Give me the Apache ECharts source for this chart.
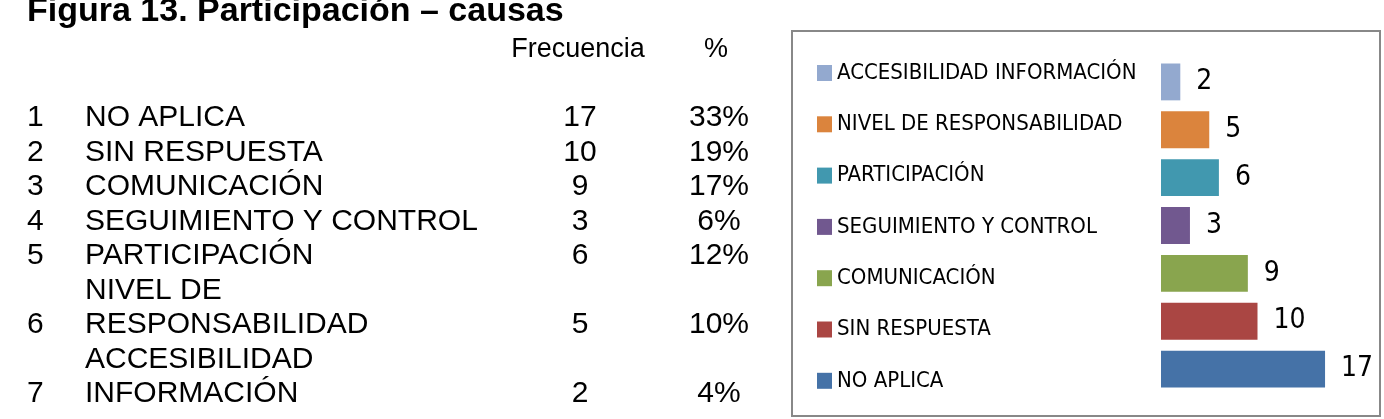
<!DOCTYPE html>
<html>
<head>
<meta charset="utf-8">
<script src="https://cdn.jsdelivr.net/npm/echarts@6/dist/echarts.min.js"></script>
<style>
  html, body { margin: 0; padding: 0; background: #fff; }
  #chart { width: 1384px; height: 419px; }
</style>
</head>
<body>
<div id="chart"></div>
<script>
// datos de la tabla (orden de la tabla, de arriba a abajo)
const categories = ['NO APLICA', 'SIN RESPUESTA', 'COMUNICACIÓN', 'SEGUIMIENTO Y CONTROL', 'PARTICIPACIÓN', 'NIVEL DE RESPONSABILIDAD', 'ACCESIBILIDAD INFORMACIÓN']
const frecuencia = [17, 10, 9, 3, 6, 5, 2]
const porcentaje = ['33%', '19%', '17%', '6%', '12%', '10%', '4%']
// como aparecen partidas en la tabla
const tableLabels = [['NO APLICA'], ['SIN RESPUESTA'], ['COMUNICACIÓN'], ['SEGUIMIENTO Y CONTROL'], ['PARTICIPACIÓN'], ['NIVEL DE', 'RESPONSABILIDAD'], ['ACCESIBILIDAD', 'INFORMACIÓN']]

const colors = ['#4572A7', '#AA4643', '#89A54E', '#71588F', '#4198AF', '#DB843D', '#93A9CF']
const tableFont = '30px "Liberation Sans", Arial, sans-serif'
const headFont = '27px "Liberation Sans", Arial, sans-serif'
const narrow = '"Liberation Sans Narrow", "DejaVu Sans Condensed", sans-serif'

function txt(text, x, y, align, font) {
  return {
    type: 'text',
    silent: true,
    style: {
      text: text, x: x, y: y,
      font: font || tableFont,
      fill: '#000',
      align: align, textAlign: align,
      verticalAlign: 'middle', textVerticalAlign: 'middle'
    }
  }
}

// tabla de la izquierda
const graphics = []
graphics.push(txt('Figura 13. Participación – causas', 27, 12, 'left', 'bold 34px "Liberation Sans", Arial, sans-serif'))
graphics.push(txt('Frecuencia', 578, 50, 'center', headFont))
graphics.push(txt('%', 716, 50, 'center', headFont))
let line = 0
const lineY = i => 118 + i * 34.5
tableLabels.forEach((lines, i) => {
  lines.forEach((l, k) => {
    graphics.push(txt(l, 85, lineY(line + k), 'left'))
  })
  const last = lineY(line + lines.length - 1)
  graphics.push(txt(String(i + 1), 27, last, 'left'))
  graphics.push(txt(String(frecuencia[i]), 580, last, 'center'))
  graphics.push(txt(porcentaje[i], 719, last, 'center'))
  line += lines.length
})
// marco del grafico
graphics.push({
  type: 'rect',
  silent: true,
  shape: { x: 792, y: 31, width: 588, height: 385 },
  style: { fill: 'none', stroke: '#888', lineWidth: 2 }
})

const chart = echarts.init(document.getElementById('chart'))

const series = categories.map((name, i) => ({
  name: name,
  type: 'bar',
  stack: 'total',
  barCategoryGap: '23%',
  data: categories.map((c, j) => (j === i ? frecuencia[i] : '-')),
  itemStyle: { color: colors[i] },
  label: {
    show: true,
    position: 'right',
    distance: 16,
    color: '#000',
    fontSize: 28,
    fontFamily: narrow
  },
  emphasis: { disabled: true },
  animation: false
}))

chart.setOption({
  animation: false,
  graphic: graphics,
  legend: {
    data: categories.slice().reverse(),
    orient: 'vertical',
    left: 817,
    top: 61,
    icon: 'rect',
    itemWidth: 15,
    itemHeight: 16,
    itemGap: 27.3,
    padding: 0,
    selectedMode: false,
    textStyle: {
      color: '#000',
      fontSize: 22,
      lineHeight: 24,
      fontFamily: narrow
    }
  },
  grid: {
    left: 1161,
    width: 193,
    top: 58,
    height: 335
  },
  xAxis: {
    type: 'value',
    min: 0,
    max: 20,
    show: false
  },
  yAxis: {
    type: 'category',
    data: categories,
    show: false
  },
  series: series
})
</script>
</body>
</html>
